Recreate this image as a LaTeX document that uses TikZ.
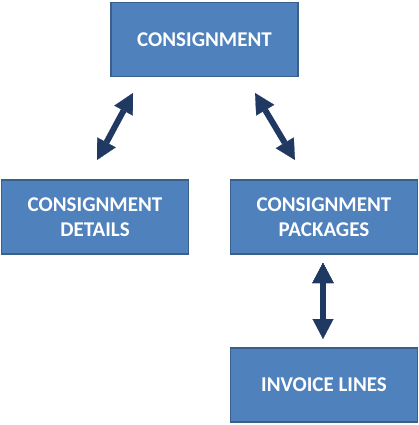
\documentclass[tikz,border=0pt]{standalone}
\usepackage{fontspec}
\setmainfont{Carlito}
\usepackage{xcolor}
\usetikzlibrary{arrows.meta,positioning}
\definecolor{boxblue}{HTML}{4F81BD}
\definecolor{boxline}{HTML}{3A5F8B}
\definecolor{arrownavy}{HTML}{1F3962}
\tikzset{main node/.style={rectangle,fill=boxblue,draw=boxline,line width=1.5pt,
            minimum width=187pt,minimum height=74pt,inner sep=0pt,
            text=white,font=\fontsize{21}{25}\selectfont\bfseries,align=center},
         link/.style={draw,color=arrownavy,line width=6pt,
            {Triangle[width=21pt,length=20pt,line width=0.2pt]}-{Triangle[width=21pt,length=20pt,line width=0.2pt]}}
            }
\begin{document}
\begin{tikzpicture}[x=1pt,y=-1pt]

    \useasboundingbox (0,0) rectangle (418,425);

    \node[main node] (cons) at (204.5,39.5) {CONSIGNMENT};
    \node[main node] (details) at (95,217) {CONSIGNMENT\\DETAILS};
    \node[main node] (packages) at (324,217) {CONSIGNMENT\\PACKAGES};
    \node[main node] (invoice) at (324,385) {INVOICE LINES};

    \coordinate (c1) at (133,93);
    \coordinate (d1) at (97,160);
    \coordinate (c2) at (255,93);
    \coordinate (p1) at (295,160);
    \coordinate (p2) at (323,263);
    \coordinate (i1) at (323,339);

    \path[link]
    (c1) edge (d1)
    (c2) edge (p1)
    (p2) edge (i1);

\end{tikzpicture}
\end{document}
